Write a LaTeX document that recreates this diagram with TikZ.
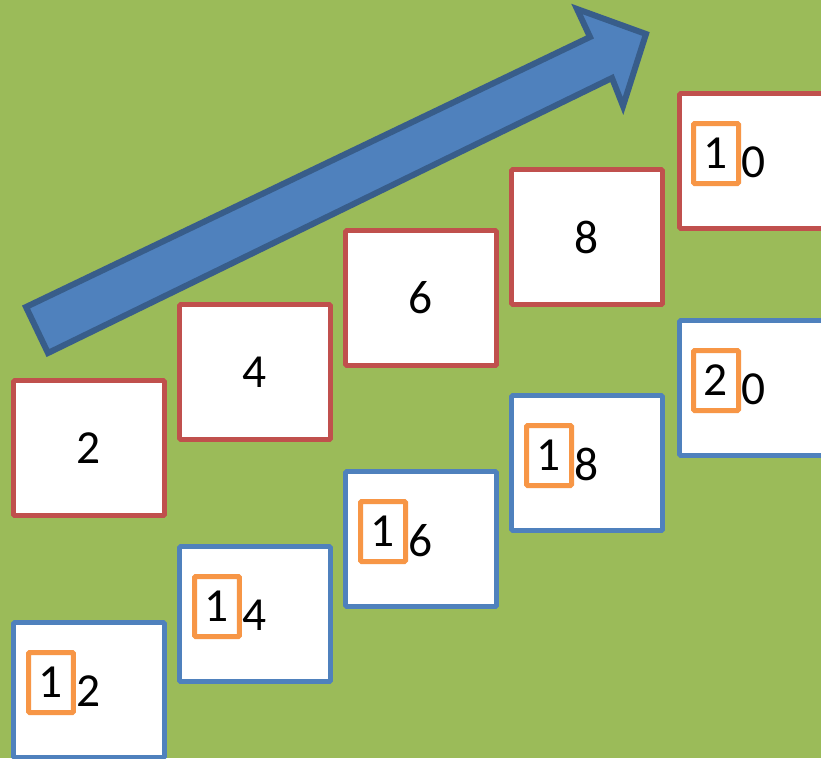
\documentclass[tikz,border=0pt]{standalone}
\usepackage{fontspec}
\setmainfont{Carlito}
\usetikzlibrary{positioning,calc}
\definecolor{bggreen}{HTML}{9BBB59}
\definecolor{boxred}{HTML}{C0504D}
\definecolor{boxblue}{HTML}{4F81BD}
\definecolor{arrowline}{HTML}{385D8A}
\definecolor{tenorange}{HTML}{F79646}

\begin{document}
\begin{tikzpicture}[x=0.02cm, y=-0.02cm,
    numbox/.style={draw, fill=white, line width=0.094cm, rounded corners=0.6pt,
      minimum width=3.02cm, minimum height=2.7cm, font=\fontsize{27}{30}\selectfont},
    redbox/.style={numbox, draw=boxred},
    bluebox/.style={numbox, draw=boxblue},
    tenbox/.style={draw=tenorange, line width=0.1cm, rounded corners=0.6pt,
      minimum width=0.9cm, minimum height=1.2cm, inner sep=0pt, font=\fontsize{27}{30}\selectfont},
    onedigit/.style={inner sep=0pt, font=\fontsize{27}{30}\selectfont}]
  \clip (0,0) rectangle (821,758);
  \fill[bggreen] (0,0) rectangle (821,758);

  % rising arrow
  \filldraw[fill=boxblue, draw=arrowline, line width=0.12cm, line join=miter]
    (26,307) -- (590,37) -- (577,9) -- (646,34) -- (623,106) -- (612,78) -- (48,353) -- cycle;

  % upper row: even numbers
  \node[redbox] (b2) at (89,448) {2};
  \node[redbox] (b4) at (255,372) {4};
  \node[redbox] (b6) at (421,298) {6};
  \node[redbox] (b8) at (587,237) {8};
  \node[redbox] (b10) at (755,161) {};
  \node[tenbox] (t10) at ($(b10)+(-39,-7.5)$) {1};
  \node[onedigit, right=0pt of t10, yshift=-5pt] (u10) {0};

  % lower row: ten more
  \node[bluebox] (b12) at (89,690) {};
  \node[tenbox] (t12) at ($(b12)+(-38,-7.5)$) {1};
  \node[onedigit, right=0pt of t12, yshift=-5pt] (u12) {2};
  \node[bluebox] (b14) at (255,614) {};
  \node[tenbox] (t14) at ($(b14)+(-38,-7.5)$) {1};
  \node[onedigit, right=0pt of t14, yshift=-5pt] (u14) {4};
  \node[bluebox] (b16) at (421,539) {};
  \node[tenbox] (t16) at ($(b16)+(-38,-7.5)$) {1};
  \node[onedigit, right=0pt of t16, yshift=-5pt] (u16) {6};
  \node[bluebox] (b18) at (587,463) {};
  \node[tenbox] (t18) at ($(b18)+(-38,-7.5)$) {1};
  \node[onedigit, right=0pt of t18, yshift=-5pt] (u18) {8};
  \node[bluebox] (b20) at (755,388) {};
  \node[tenbox] (t20) at ($(b20)+(-39,-7.5)$) {2};
  \node[onedigit, right=0pt of t20, yshift=-5pt] (u20) {0};
\end{tikzpicture}
\end{document}
